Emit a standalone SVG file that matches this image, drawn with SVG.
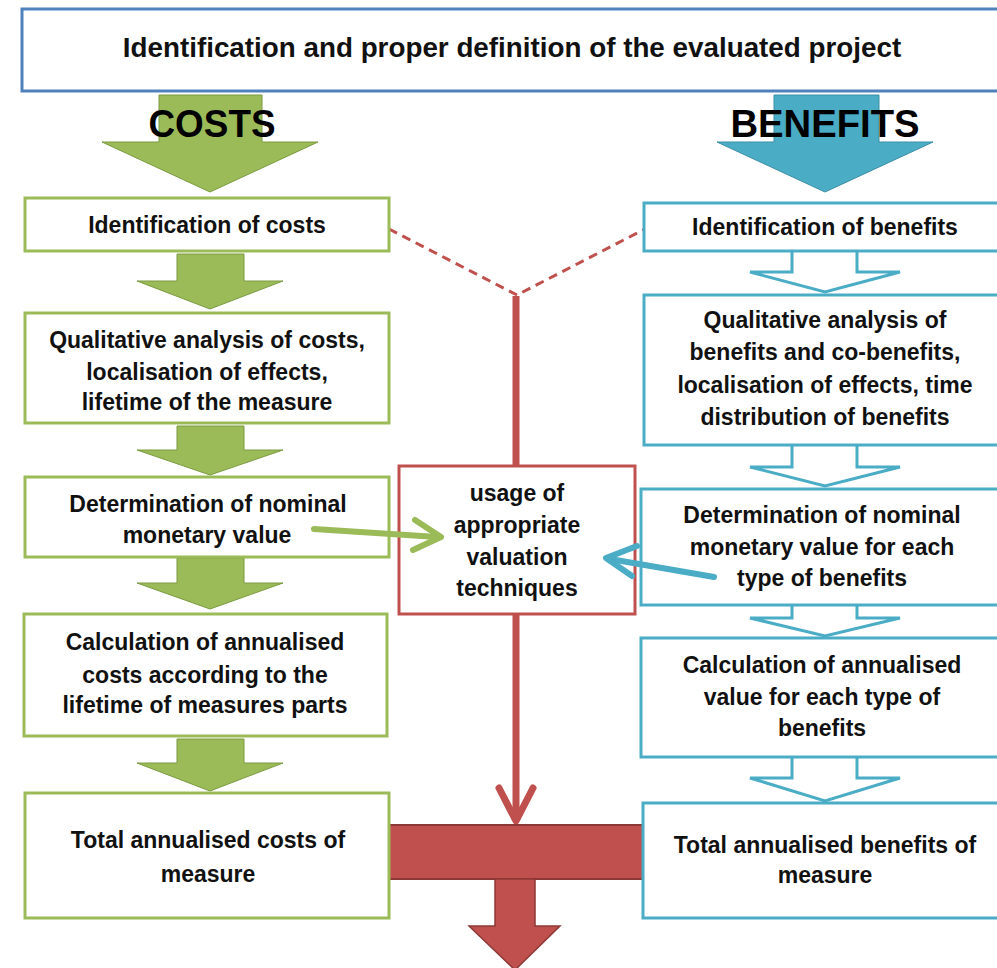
<svg xmlns="http://www.w3.org/2000/svg" width="997" height="968" viewBox="0 0 997 968">
<style>
.t{font-family:"Liberation Sans",Arial,sans-serif;font-weight:bold;font-size:23px;fill:#111;text-anchor:middle}
.big{font-family:"Liberation Sans",Arial,sans-serif;font-weight:bold;font-size:39px;fill:#000;text-anchor:middle}
.cbox{fill:#fff;stroke:#9BBB59;stroke-width:3}
.bbox{fill:#fff;stroke:#4BACC6;stroke-width:3}
.garr{fill:#9BBB59;stroke:#7A9A3F;stroke-width:1}
.barr{fill:#fff;stroke:#4BACC6;stroke-width:3;stroke-linejoin:miter}
.red{stroke:#C0504D;fill:none}
</style>
<rect width="997" height="968" fill="#fff"/>

<g id="title">
<rect x="22" y="9" width="990" height="82" fill="#fff" stroke="#4F81BD" stroke-width="3"/>
<text class="t" x="512" y="57" style="font-size:27.8px">Identification and proper definition of the evaluated project</text>
</g>

<g id="connectors">
<polygon class="garr" points="159,95 262,95 262,142 318,142 210,192 102,142 159,142"/>
<polygon points="774,95 879,95 879,142 933,142 825,192 717,142 774,142" fill="#4BACC6" stroke="#3A8EA5" stroke-width="1"/>
<polygon class="garr" points="177,254 244,254 244,281 283,281 210,309 137,281 177,281"/>
<polygon class="garr" points="177,426 244,426 244,450 283,450 210,475 137,450 177,450"/>
<polygon class="garr" points="177,558 244,558 244,583 283,583 210,609 137,583 177,583"/>
<polygon class="garr" points="177,739 244,739 244,763 283,763 210,791 137,763 177,763"/>
<polyline class="barr" points="792,251 792,272 750,272 825,292 900,272 857,272 857,251"/>
<polyline class="barr" points="792,446 792,467 750,467 825,486 900,467 857,467 857,446"/>
<polyline class="barr" points="792,605 792,618 750,618 825,636 900,618 857,618 857,605"/>
<polyline class="barr" points="792,758 792,778 750,778 825,801 900,778 857,778 857,758"/>
<polyline class="red" points="389,229 517,295 645,229" stroke-width="3" stroke-dasharray="9,6"/>
<line class="red" x1="516" y1="296" x2="516" y2="818" stroke-width="7"/>
<polyline class="red" points="499,788 516,821 533,788" stroke-width="7" stroke-linecap="round" stroke-linejoin="round"/>
<rect x="389" y="825" width="255" height="54" fill="#C0504D" stroke="#8C3836" stroke-width="2"/>
<polygon points="495,879 535,879 535,926 560,926 515,970 469,926 495,926" fill="#C0504D" stroke="#8C3836" stroke-width="1.5"/>
</g>

<g id="costs-label"><text class="big" x="212" y="137" textLength="127" lengthAdjust="spacingAndGlyphs">COSTS</text></g>
<g id="benefits-label"><text class="big" x="825" y="137" textLength="189" lengthAdjust="spacingAndGlyphs">BENEFITS</text></g>

<g id="c1"><rect class="cbox" x="25" y="198" width="364" height="53"/>
<text class="t" x="207" y="233">Identification of costs</text></g>
<g id="c2"><rect class="cbox" x="25" y="313" width="364" height="110"/>
<text class="t" x="207" y="348">Qualitative analysis of costs,</text>
<text class="t" x="207" y="380">localisation of effects,</text>
<text class="t" x="207" y="410">lifetime  of the measure</text></g>
<g id="c3"><rect class="cbox" x="25" y="477" width="364" height="80"/>
<text class="t" x="208" y="512">Determination  of nominal</text>
<text class="t" x="207" y="543">monetary value</text></g>
<g id="c4"><rect class="cbox" x="24" y="614" width="363" height="122"/>
<text class="t" x="205" y="650">Calculation  of annualised</text>
<text class="t" x="205" y="683">costs according to the</text>
<text class="t" x="205" y="713">lifetime  of measures parts</text></g>
<g id="c5"><rect class="cbox" x="25" y="793" width="364" height="125"/>
<text class="t" x="208" y="848">Total annualised costs of</text>
<text class="t" x="208" y="882">measure</text></g>

<g id="center"><rect x="399" y="466" width="236" height="148" fill="#fff" stroke="#C0504D" stroke-width="3"/>
<text class="t" x="517" y="501">usage of</text>
<text class="t" x="517" y="533">appropriate</text>
<text class="t" x="517" y="565">valuation</text>
<text class="t" x="517" y="596">techniques</text></g>

<g id="b1"><rect class="bbox" x="644" y="203" width="370" height="48"/>
<text class="t" x="825" y="235">Identification of benefits</text></g>
<g id="b2"><rect class="bbox" x="644" y="295" width="370" height="150"/>
<text class="t" x="825" y="328">Qualitative analysis of</text>
<text class="t" x="825" y="360">benefits and co-benefits,</text>
<text class="t" x="825" y="393">localisation of effects, time</text>
<text class="t" x="825" y="425">distribution of benefits</text></g>
<g id="b3"><rect class="bbox" x="641" y="489" width="370" height="116"/>
<text class="t" x="822" y="523">Determination  of nominal</text>
<text class="t" x="822" y="555">monetary value for each</text>
<text class="t" x="822" y="586">type of benefits</text></g>
<g id="b4"><rect class="bbox" x="641" y="638" width="370" height="119"/>
<text class="t" x="822" y="673">Calculation  of annualised</text>
<text class="t" x="822" y="705">value for each type of</text>
<text class="t" x="822" y="736">benefits</text></g>
<g id="b5"><rect class="bbox" x="643" y="803" width="370" height="115"/>
<text class="t" x="825" y="853">Total annualised benefits of</text>
<text class="t" x="825" y="883">measure</text></g>

<g id="connectors-valuation">
<line x1="314" y1="529" x2="437" y2="537" stroke="#9BBB59" stroke-width="6" stroke-linecap="round"/>
<polyline points="415,520 441,537 413,550" fill="none" stroke="#9BBB59" stroke-width="6" stroke-linecap="round" stroke-linejoin="round"/>
<line x1="714" y1="577" x2="610" y2="559" stroke="#4BACC6" stroke-width="6" stroke-linecap="round"/>
<polyline points="637,546 606,558 632,576" fill="none" stroke="#4BACC6" stroke-width="6" stroke-linecap="round" stroke-linejoin="round"/>
</g>
</svg>
